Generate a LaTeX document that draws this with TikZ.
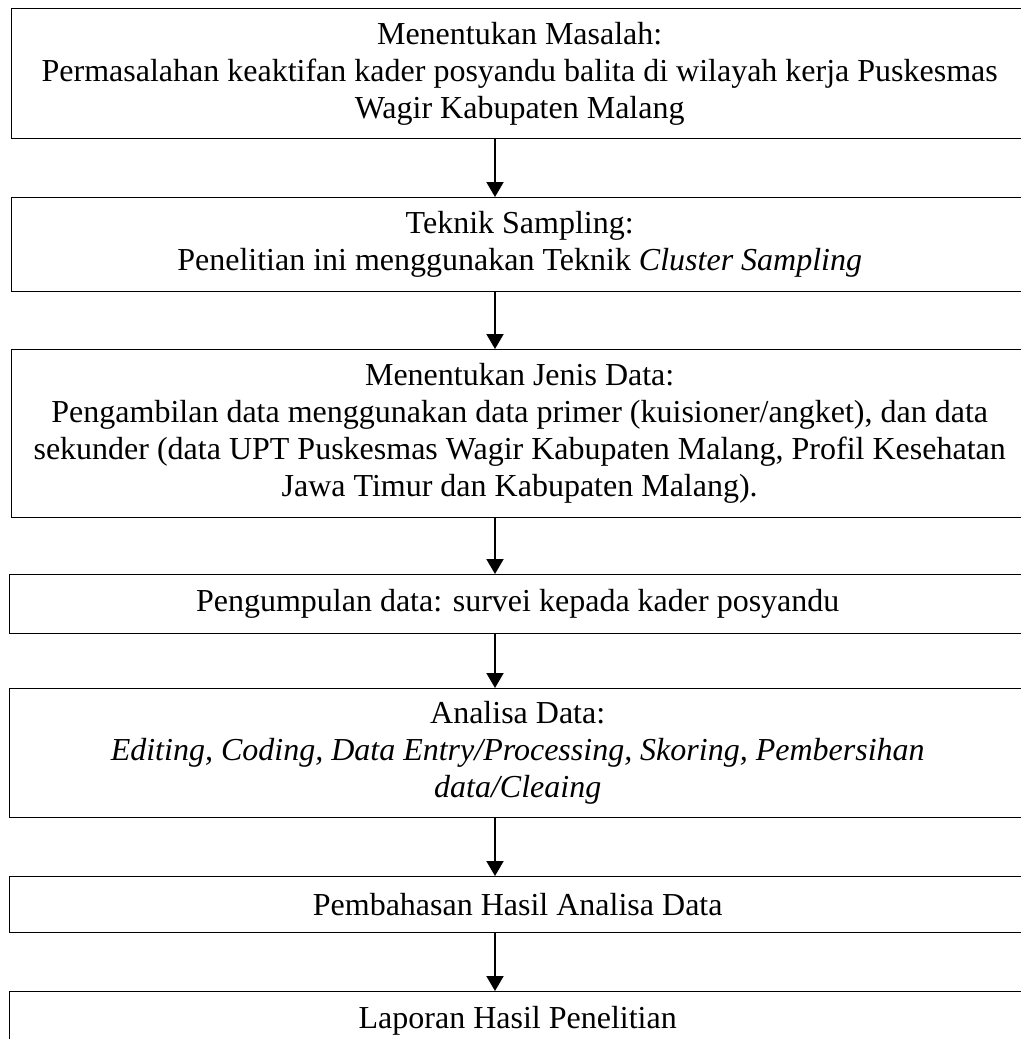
\documentclass[tikz,border=0pt]{standalone}
\usepackage{fontspec}
\setmainfont{Liberation Serif}
\usetikzlibrary{arrows.meta}

\tikzset{
  box/.style={draw, line width=0.7pt, anchor=north west, minimum width=508pt,
    align=center, inner sep=0pt, font=\fontsize{16}{18.5}\selectfont},
  flow/.style={-{Triangle[width=8.5pt,length=7.5pt]}, line width=1pt}
}

\begin{document}
\begin{tikzpicture}
	\useasboundingbox (0,0) rectangle (510.5pt,-519.5pt);
	\clip (0,0) rectangle (510.5pt,-519.5pt);
	% steps of the research, top to bottom
	\node[box, minimum height=65pt] (masalah) at (5.5pt,-4pt) {Menentukan Masalah:\\
		Permasalahan keaktifan kader posyandu balita di wilayah kerja Puskesmas\\
		Wagir Kabupaten Malang};
	\node[box, minimum height=47pt] (sampling) at (5.5pt,-98.5pt) {Teknik Sampling:\\
		Penelitian ini menggunakan Teknik \textit{Cluster Sampling}};
	\node[box, minimum height=84pt] (jenis) at (5.5pt,-174.5pt) {Menentukan Jenis Data:\\
		Pengambilan data menggunakan data primer (kuisioner/angket), dan data\\
		sekunder (data UPT Puskesmas Wagir Kabupaten Malang, Profil Kesehatan\\
		Jawa Timur dan Kabupaten Malang).};
	\node[box, minimum height=29.5pt] (kumpul) at (4.5pt,-287pt) {Pengumpulan data: survei kepada kader posyandu};
	\node[box, minimum height=64.5pt] (analisa) at (4.5pt,-344pt) {Analisa Data:\\
		\textit{Editing, Coding, Data Entry/Processing, Skoring, Pembersihan}\\
		\textit{data/Cleaing}};
	\node[box, minimum height=28pt] (bahas) at (4.5pt,-438pt) {Pembahasan Hasil Analisa Data};
	\node[box, minimum height=29pt] (laporan) at (4.5pt,-495.5pt) {Laporan Hasil Penelitian};
	% arrows
	\coordinate (axis) at (247.5pt,0);
	\foreach \a/\b in {masalah/sampling, sampling/jenis, jenis/kumpul, kumpul/analisa,
		analisa/bahas, bahas/laporan}
		\draw[flow] (\a.south -| axis) -- (\b.north -| axis);
\end{tikzpicture}
\end{document}
